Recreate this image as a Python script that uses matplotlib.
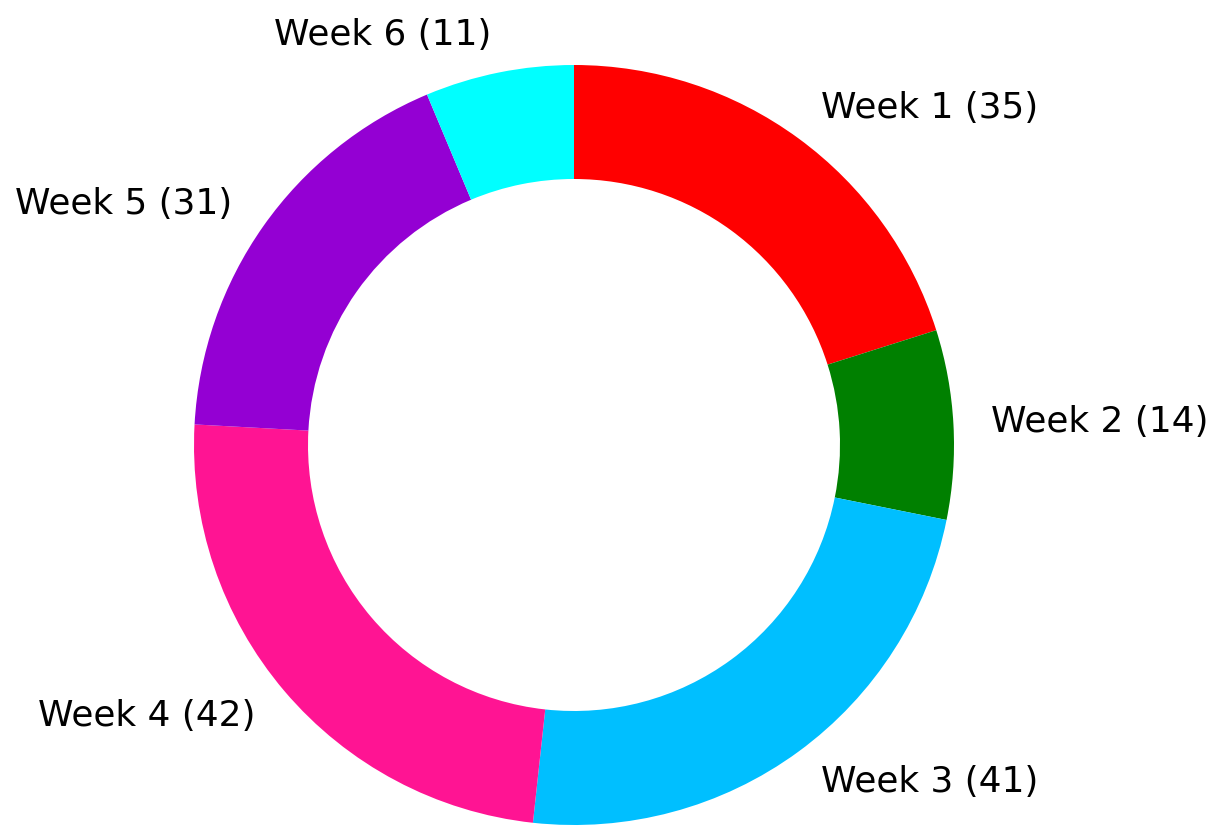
import matplotlib
matplotlib.use("Agg")
import matplotlib.pyplot as plt

weeks = ["Week 1", "Week 2", "Week 3", "Week 4", "Week 5", "Week 6"]
counts = [35, 14, 41, 42, 31, 11]
colors = ["red", "green", "deepskyblue", "deeppink", "darkviolet", "cyan"]

labels = [f"{w} ({c})" for w, c in zip(weeks, counts)]

fig = plt.figure(figsize=(12.12, 8.31), dpi=100)
ax = fig.add_axes([0, 0, 1, 1])
ax.pie(counts, labels=labels, colors=colors, startangle=90, counterclock=False,
       wedgeprops=dict(width=0.3), textprops=dict(fontsize=25.8))

# place the pie centre where it sits in the reference
r_px = 380
cx, cy = 574, 831 - 445
ax.set_xlim(-cx / r_px, (1212 - cx) / r_px)
ax.set_ylim(-cy / r_px, (831 - cy) / r_px)
ax.set_aspect("auto")
ax.axis("off")

fig.savefig("out.png", dpi=100)
